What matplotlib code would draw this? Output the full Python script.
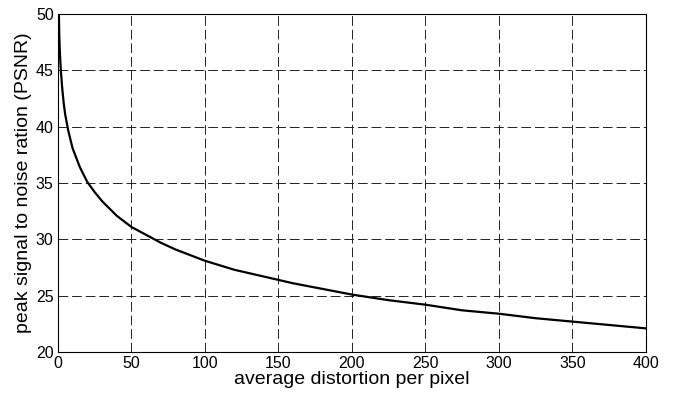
import matplotlib
matplotlib.use("Agg")
from matplotlib import pyplot as plt

# values
distortion = [0.75, 1.0, 1.4, 2, 3, 4, 5, 7, 10, 15, 20, 25, 30, 40, 50, 60, 70, 80,
              90, 100, 120, 140, 160, 180, 200, 225, 250, 275, 300, 325, 350, 375, 400]
psnr = [50.0, 48.1, 46.6, 45.1, 43.4, 42.1, 41.1, 39.7, 38.1, 36.4, 35.1, 34.2, 33.4,
        32.1, 31.1, 30.4, 29.7, 29.1, 28.6, 28.1, 27.3, 26.7, 26.1, 25.6, 25.1, 24.6,
        24.2, 23.7, 23.4, 23.0, 22.7, 22.4, 22.1]

x_ticks = [0, 50, 100, 150, 200, 250, 300, 350, 400]
y_ticks = [20, 25, 30, 35, 40, 45, 50]

plt.rcParams['font.family'] = ['Liberation Sans', 'DejaVu Sans']

fig = plt.figure(figsize=(6.8, 3.96), dpi=100)
ax = fig.add_axes([0.085, 0.111, 0.865, 0.854])

ax.plot(distortion, psnr, color='black', linewidth=1.6)

ax.set_xlim(0, 400)
ax.set_ylim(20, 50)
ax.set_xticks(x_ticks)
ax.set_yticks(y_ticks)
ax.tick_params(direction='in', length=0, labelsize=11.5, pad=3)
ax.grid(True, color='#222222', linestyle=(0, (10, 4)), linewidth=0.7)
for spine in ax.spines.values():
    spine.set_linewidth(0.8)

ax.set_xlabel("average distortion per pixel", fontsize=14, labelpad=0)
ax.set_ylabel("peak signal to noise ration (PSNR)", fontsize=14, labelpad=3)

fig.savefig("out.png", dpi=100)
